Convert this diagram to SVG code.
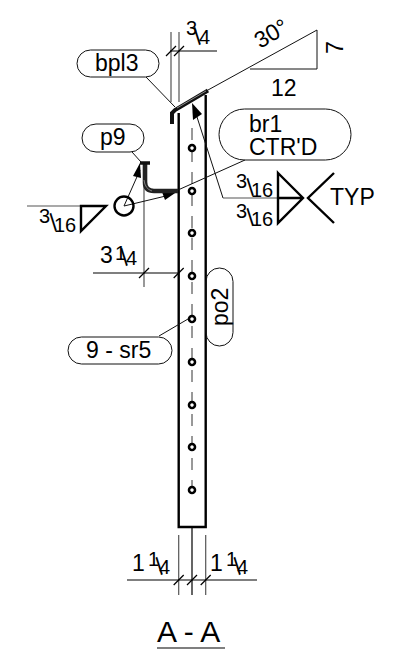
<svg xmlns="http://www.w3.org/2000/svg" width="393" height="656" viewBox="0 0 393 656">
<style>
text{font-family:"Liberation Sans",Arial,sans-serif;font-size:23px;fill:#000}
.s{font-size:20px}
.f{font-size:24px}
.b{fill:none;stroke:#111;stroke-width:1}
.l{fill:none;stroke:#000;stroke-width:1.200}
.g{fill:none;stroke:#555;stroke-width:1.200}
.k{fill:none;stroke:#000;stroke-width:2.400}
</style>
<defs>
<path id="tick" d="M-5 5L5-5" class="l"/>
<circle id="hole" r="3" fill="#fff" stroke="#000" stroke-width="2.600"/>
</defs>
<g id="column">
<path class="k" d="M178.700 113V527H205.700V95"/>
<path d="M192 128V490" fill="none" stroke="#333" stroke-width="1" stroke-dasharray="12 10"/>
<use href="#hole" x="192" y="148"/><use href="#hole" x="192" y="191"/><use href="#hole" x="192" y="233"/>
<use href="#hole" x="192" y="276"/><use href="#hole" x="192" y="319"/><use href="#hole" x="192" y="362"/>
<use href="#hole" x="192" y="405"/><use href="#hole" x="192" y="447"/><use href="#hole" x="192" y="490"/>
</g>
<g id="plate">
<path d="M172 124V113L175 110L208 90.500" fill="none" stroke="#111" stroke-width="4"/>
<path d="M177 108L206 91" fill="none" stroke="#aaa" stroke-width=".8"/>
</g>
<g id="connectors">
<path class="g" d="M171 32V102M179 32V102M144 170V287M178.700 535V595M205.700 535V595"/>
<path class="l" d="M170 51H217M93 273H178M127 580H257M192 527V595"/>
<use href="#tick" x="171" y="51"/><use href="#tick" x="179" y="51"/><use href="#tick" x="144" y="273"/><use href="#tick" x="178.700" y="273"/>
<use href="#tick" x="178.700" y="580"/><use href="#tick" x="192" y="580"/><use href="#tick" x="205.700" y="580"/>
<path class="b" d="M146 77L175 107M132 152L141 162M159 336L188 319M208 90L317 30V69H250"/>
<path class="b" d="M245 160L178 190M124 206L140 170M124 206L170 195M223 198L197 117"/>
<path class="g" d="M223 198H278M27 206H81"/>
<path d="M192 103L202 114L193 120Z" fill="#000"/>
<path d="M140 163L141 178L133 176Z" fill="#000"/>
<path d="M178 191L165 200L162 192Z" fill="#000"/>
</g>
<g id="angle">
<path d="M145 164V182Q145 191 154 191H178" fill="none" stroke="#222" stroke-width="4.600"/>
<path d="M140 163H150" fill="none" stroke="#111" stroke-width="3.500"/>
<path d="M144 180Q145 189 152 191" fill="none" stroke="#999" stroke-width=".8"/>
</g>
<g id="weld-left">
<circle class="k" cx="124" cy="206" r="9.500"/>
<path class="k" d="M81 206H106L81 231Z"/>
<text><tspan class="s" x="39" y="223">3</tspan><tspan class="f" x="55" y="231" rotate="-33">/</tspan><tspan class="s" x="54" y="232">16</tspan></text>
</g>
<g id="weld-right">
<path class="k" d="M278 173L303 198L278 223ZM278 198H303"/>
<path class="k" d="M334 173L308 198L334 223"/>
<text><tspan class="s" x="236" y="188">3</tspan><tspan class="f" x="252" y="196" rotate="-33">/</tspan><tspan class="s" x="251" y="197">16</tspan></text>
<text><tspan class="s" x="236" y="218">3</tspan><tspan class="f" x="252" y="226" rotate="-33">/</tspan><tspan class="s" x="251" y="226">16</tspan></text>
<text x="330" y="205">TYP</text>
</g>
<g id="bpl3"><rect class="b" x="77" y="50" width="82" height="27" rx="13.500"/><text x="95" y="71">bpl3</text></g>
<g id="p9"><rect class="b" x="82" y="124" width="62" height="28" rx="14"/><text x="100" y="145">p9</text></g>
<g id="br1"><rect class="b" x="219" y="109" width="132" height="51" rx="25.500"/><text x="249" y="132">br1</text><text x="249" y="155">CTR'D</text></g>
<g id="sr5"><rect class="b" x="68" y="337" width="104" height="27" rx="13.500"/><text x="86" y="358">9 - sr5</text></g>
<g id="po2"><rect class="b" x="206" y="268" width="27" height="78" rx="13.500"/><text transform="translate(228 326) rotate(-90)">po2</text></g>
<g id="dims">
<text><tspan class="s" x="186" y="35">3</tspan><tspan class="f" x="199" y="45" rotate="-33">/</tspan><tspan class="s" x="199" y="44">4</tspan></text>
<text x="260" y="49" transform="rotate(-30 260 49)">30°</text>
<text transform="translate(343 54) rotate(-90)">7</text>
<text x="271" y="96">12</text>
<text><tspan x="100" y="263">3</tspan><tspan class="s" x="115" y="260">1</tspan><tspan class="f" x="126" y="266" rotate="-33">/</tspan><tspan class="s" x="126" y="265">4</tspan></text>
<text><tspan x="132" y="571">1</tspan><tspan class="s" x="148" y="566">1</tspan><tspan class="f" x="161" y="575" rotate="-33">/</tspan><tspan class="s" x="159" y="574">4</tspan></text>
<text><tspan x="210" y="571">1</tspan><tspan class="s" x="226" y="566">1</tspan><tspan class="f" x="239" y="575" rotate="-33">/</tspan><tspan class="s" x="237" y="574">4</tspan></text>
</g>
<g id="title"><text x="157" y="642" style="font-size:30px">A - A</text><path d="M157 648H225" fill="none" stroke="#555" stroke-width="1.500"/></g>
</svg>
